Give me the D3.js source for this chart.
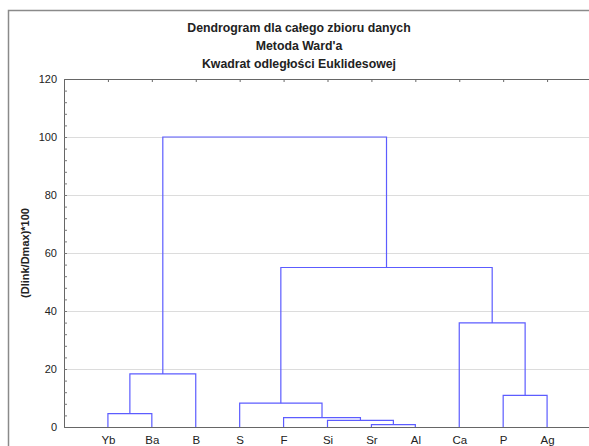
<!DOCTYPE html>
<html>
<head>
<meta charset="utf-8">
<script src="https://cdn.jsdelivr.net/npm/d3@7"></script>
<style>
  body { margin: 0; background: #fff; }
  text { font-family: "Liberation Sans", Arial, sans-serif; fill: #222; }
</style>
</head>
<body>
<div id="dendro"></div>
<script>
// leaves in plotting order
const leaves = ["Yb", "Ba", "B", "S", "F", "Si", "Sr", "Al", "Ca", "P", "Ag"];

// merge steps (node ids: 0..10 = leaves, 11.. = merges in this order)
const mergeLeft   = [6,   5,   4,   0,   3,   9,    14,   8,    15, 17];
const mergeRight  = [7,   11,  12,  1,   13,  10,   2,    16,   18, 19];
const mergeHeight = [0.8, 2.3, 3.2, 4.6, 8.2, 10.9, 18.3, 35.9, 55, 100];

const yTicks = [0, 20, 40, 60, 80, 100, 120];

const titleLines = ["Dendrogram dla całego zbioru danych", "Metoda Ward'a", "Kwadrat odległości Euklidesowej"];

const margin = { top: 79, right: 0, bottom: 19, left: 64 },
  width = 591 - margin.left,
  height = 427 - margin.top;

const svgRoot = d3.select("#dendro")
  .append("svg")
    .attr("width", 589)
    .attr("height", 446);

// outer frame
svgRoot.append("rect")
  .attr("x", 8.5)
  .attr("y", 10.5)
  .attr("width", 600)
  .attr("height", 500)
  .attr("fill", "none")
  .attr("stroke", "#8a8a8a")
  .attr("stroke-width", 1.5);

// titles
svgRoot.selectAll(".title")
  .data(titleLines)
  .enter().append("text")
    .attr("class", "title")
    .attr("x", 299)
    .attr("y", function (d, i) { return 32 + i * 18; })
    .attr("text-anchor", "middle")
    .style("font-size", "12.3px")
    .style("font-weight", "bold")
    .text(function (d) { return d; });

const svg = svgRoot.append("g")
  .attr("transform", "translate(" + margin.left + "," + margin.top + ")");

let x = d3.scalePoint()
  .domain(leaves)
  .range([0, width])
  .padding(1);

let y = d3.scaleLinear()
  .domain([0, 120])
  .range([height, 0]);

// grid lines
svg.append("g")
  .selectAll("line")
  .data(yTicks.filter(function (d) { return d > 0 && d < 120; }))
  .enter().append("line")
    .attr("x1", 0)
    .attr("x2", width)
    .attr("y1", function (d) { return Math.round(y(d)) + 0.5; })
    .attr("y2", function (d) { return Math.round(y(d)) + 0.5; })
    .attr("stroke", "#dcdcdc");

// minor ticks on y axis (every 4)
svg.append("g")
  .attr("class", "y axis")
  .call(d3.axisLeft(y).tickValues(d3.range(0, 121, 4)).tickSize(-3).tickFormat(""))
  .call(function (g) {
    g.select(".domain").attr("stroke", "#666");
    g.selectAll(".tick line").attr("stroke", "#777");
  });

// y labels
svg.append("g")
  .attr("class", "y axis")
  .call(d3.axisLeft(y).tickValues(yTicks).tickSize(0).tickPadding(7))
  .call(function (g) {
    g.select(".domain").remove();
    g.selectAll("text")
      .style("font-family", "'Liberation Sans', Arial, sans-serif")
      .style("font-size", "11px")
      .attr("fill", "#222");
  });

// top axis
svg.append("g")
  .attr("class", "x axis top")
  .call(d3.axisTop(x).tickSize(-3).tickSizeOuter(0).tickFormat(""))
  .call(function (g) {
    g.select(".domain").attr("stroke", "#666");
    g.selectAll(".tick line").attr("stroke", "#666");
  });

// bottom axis
svg.append("g")
  .attr("class", "x axis")
  .attr("transform", "translate(0," + height + ")")
  .call(d3.axisBottom(x).tickSize(0).tickSizeOuter(0).tickPadding(9))
  .call(function (g) {
    g.select(".domain").attr("stroke", "#666").attr("stroke-width", 1.2);
    g.selectAll("text")
      .style("font-family", "'Liberation Sans', Arial, sans-serif")
      .style("font-size", "11.5px")
      .attr("fill", "#222");
  });

// y axis title
svgRoot.append("text")
  .attr("transform", "translate(29," + (margin.top + height / 2) + ") rotate(-90)")
  .attr("text-anchor", "middle")
  .style("font-size", "11px")
  .style("font-weight", "bold")
  .text("(Dlink/Dmax)*100");

// build node positions
let nodeX = leaves.map(function (d) { return x(d); });
let nodeH = leaves.map(function () { return 0; });
let links = [];
mergeHeight.forEach(function (h, i) {
  let l = mergeLeft[i], r = mergeRight[i];
  links.push({ x1: nodeX[l], h1: nodeH[l], x2: nodeX[r], h2: nodeH[r], h: h });
  nodeX.push((nodeX[l] + nodeX[r]) / 2);
  nodeH.push(h);
});

// draw the links
svg.append("g")
  .selectAll("path")
  .data(links)
  .enter().append("path")
    .attr("d", function (d) {
      return "M" + d.x1 + "," + y(d.h1) + "V" + y(d.h) + "H" + d.x2 + "V" + y(d.h2);
    })
    .attr("fill", "none")
    .attr("stroke", "#5c5cff")
    .attr("stroke-width", 1.2);
</script>
</body>
</html>
